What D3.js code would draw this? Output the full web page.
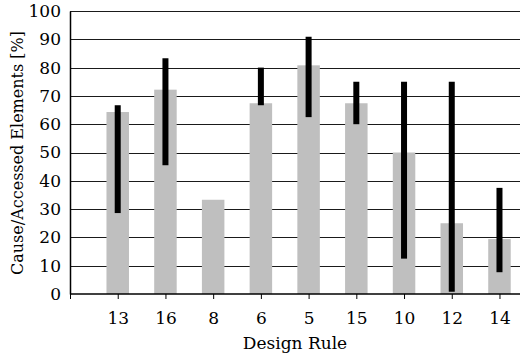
<!DOCTYPE html>
<html><head><meta charset="utf-8">
<script src="https://cdn.jsdelivr.net/npm/d3@7"></script>
<style>body{margin:0;background:#fff}svg{display:block}</style>
</head><body><svg id="c" width="520" height="358"></svg>
<script>
const categories = ["13","16","8","6","5","15","10","12","14"];
const barValues = [64.3, 72.2, 33.3, 67.4, 80.8, 67.4, 50.0, 25.0, 19.4];
const errLow  = [28.6, 45.5, null, 66.7, 62.5, 60.0, 12.5, 0.8, 7.7];
const errHigh = [66.7, 83.3, null, 80.0, 90.9, 75.0, 75.0, 75.0, 37.5];
const yTicks = [0,10,20,30,40,50,60,70,80,90,100];

const FONT = "'DejaVu Serif', serif";
const svg = d3.select("#c");
const x = d3.scaleLinear().domain([0, 9.43]).range([70, 520]);
const y = d3.scaleLinear().domain([0, 100]).range([294, 11]);
const barW = 22.5, errW = 6;

// grid
svg.append("g").selectAll("line").data(yTicks.filter(d=>d>0)).join("line")
  .attr("x1", x(0)).attr("x2", 520)
  .attr("y1", d=>Math.round(y(d))+0.5).attr("y2", d=>Math.round(y(d))+0.5)
  .attr("stroke", "#1a1a1a").attr("stroke-width", 1);

// bars
svg.append("g").selectAll("rect").data(barValues).join("rect")
  .attr("x", (d,i)=>x(i+1)-barW/2).attr("width", barW)
  .attr("y", d=>y(d)).attr("height", d=>y(0)-y(d))
  .attr("fill", "#bfbfbf");

// error bars
svg.append("g").selectAll("rect").data(categories.map((c,i)=>i).filter(i=>errLow[i]!==null)).join("rect")
  .attr("x", i=>x(i+1)-errW/2).attr("width", errW)
  .attr("y", i=>y(errHigh[i])).attr("height", i=>y(errLow[i])-y(errHigh[i]))
  .attr("fill", "#000");

// y axis
const ya = svg.append("g").attr("transform", `translate(${x(0)},0)`)
  .call(d3.axisLeft(y).tickValues(yTicks).tickSize(0).tickPadding(9));
ya.attr("font-family", null);
ya.select(".domain").attr("stroke","#000").attr("stroke-width",1.5);
ya.selectAll("text").style("font-family", FONT).style("font-size","17px").attr("fill","#000");

// x axis
const xa = svg.append("g").attr("transform", `translate(0,${y(0)})`)
  .call(d3.axisBottom(x).tickValues(d3.range(0,10)).tickSize(5).tickPadding(13)
    .tickFormat(i=> i===0 ? "" : categories[i-1]));
xa.attr("font-family", null);
xa.select(".domain").attr("stroke","#000").attr("stroke-width",1.5).attr("d", `M${x(0)},0H520`);
xa.selectAll("line").attr("stroke","#000").attr("stroke-width",1);
xa.selectAll("text").style("font-family", FONT).style("font-size","17px").attr("fill","#000");

// labels
svg.append("text").attr("x", 295).attr("y", 349).attr("text-anchor","middle")
  .style("font-family", FONT).style("font-size","17px").text("Design Rule");
svg.append("text").attr("transform","translate(23,153) rotate(-90)").attr("text-anchor","middle")
  .style("font-family", FONT).style("font-size","16px").text("Cause/Accessed Elements [%]");
</script></body></html>
